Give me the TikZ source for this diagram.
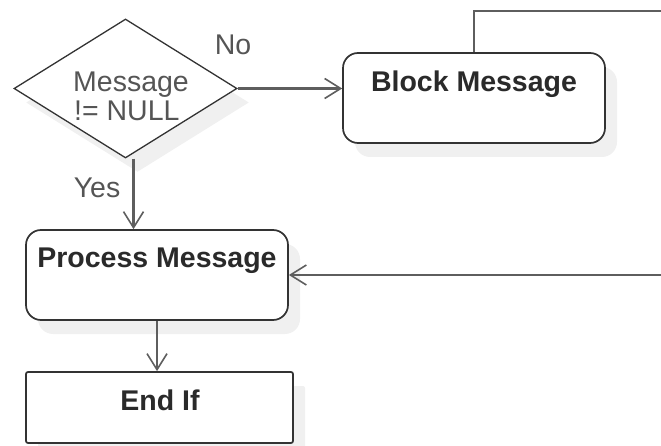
\documentclass[tikz,border=0pt]{standalone}
\usepackage{fontspec}
\setmainfont{Liberation Sans}
\usetikzlibrary{shapes.geometric,arrows.meta,shadows}
\definecolor{edgegray}{HTML}{5E5E5E}
\definecolor{boxborder}{HTML}{333333}
\definecolor{txtgray}{HTML}{555555}
\definecolor{txtdark}{HTML}{2A2A2A}
\definecolor{shade}{HTML}{F0F0F0}
\tikzset{
  shd/.style={general shadow={shadow xshift=12pt,shadow yshift=-14pt,fill=shade}},
  roundbox/.style={draw=boxborder,line width=1.7pt,fill=white,rounded corners=15pt,inner sep=0pt,shd},
  sqbox/.style={draw=boxborder,line width=1.7pt,fill=white,rounded corners=2pt,inner sep=0pt,shd},
  decision/.style={diamond,draw=black!80,line width=1.3pt,fill=white,inner sep=0pt,shd},
  boldtxt/.style={font=\fontsize{28.5}{31}\selectfont\bfseries,text=txtdark,anchor=base,inner sep=0pt},
  lbl/.style={font=\fontsize{28.5}{31}\selectfont,text=txtgray,anchor=base,inner sep=0pt},
  conn/.style={draw=edgegray,line width=2.1pt},
  arr/.style={conn,-{Straight Barb[length=16pt,width=20pt,line width=1.6pt]}}
}
\begin{document}
\begin{tikzpicture}[x=1pt,y=-1pt]
\useasboundingbox (0,0) rectangle (661,446);
% nodes
\node[decision,minimum width=223pt,minimum height=139pt] (d) at (125.5,88.5) {};
\node[roundbox,minimum width=262pt,minimum height=90pt] (bm) at (474,98) {};
\node[roundbox,minimum width=262pt,minimum height=90pt] (pm) at (157,275) {};
\node[sqbox,minimum width=267pt,minimum height=71pt] (ei) at (159.5,407.5) {};
% texts
\node[lbl,anchor=base west] (dt1) at (73,92) {Message};
\node[lbl,anchor=base west] (dt2) at (74,121) {!= NULL};
\node[boldtxt] (bmt) at (474,92) {Block Message};
\node[boldtxt] (pmt) at (157,268) {Process Message};
\node[boldtxt] (eit) at (160,410) {End If};
\node[lbl] (no) at (233,55) {No};
\node[lbl] (yes) at (97,198) {Yes};
% coordinates for off-picture loop
\coordinate (tr) at (661,11);
\coordinate (rr) at (661,275);
% connectors
\draw[arr] (d.east) -- (d.east -| bm.west);
\draw[arr] ([xshift=8pt]d.south) -- ([xshift=8pt]d.south |- pm.north);
\draw[arr] (pm.south) -- (pm.south |- ei.north);
\draw[conn] (bm.north) |- (tr);
\draw[arr] (rr) -- (pm.east);
\end{tikzpicture}
\end{document}
